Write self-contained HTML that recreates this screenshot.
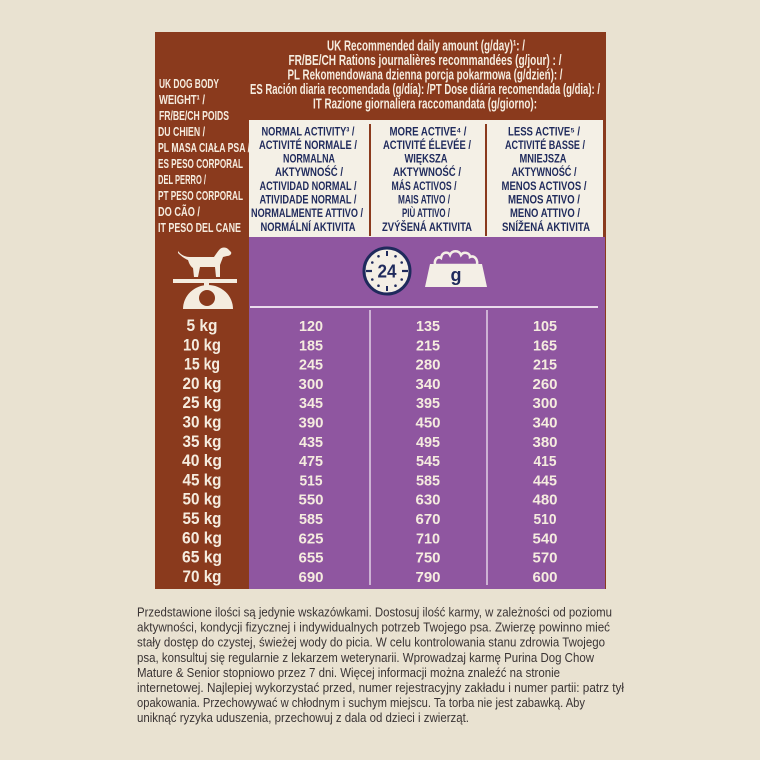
<!DOCTYPE html>
<html>
<head>
<meta charset="utf-8">
<style>
html,body{margin:0;padding:0;background:#e9e2d1;}
svg{display:block;}
text{font-family:"Liberation Sans Narrow","Liberation Sans","Noto Sans CJK SC",sans-serif;font-weight:bold;}
.hd{fill:#f5ecdf;font-size:15px;}
.lc{fill:#f5ecdf;font-size:12.5px;}
.cc{fill:#1f2a5c;font-size:12px;}
.kg{fill:#f5ecdf;font-size:16.5px;}
.nm{fill:#f5ecdf;font-size:15px;}
.pg{fill:#3a3434;font-size:13px;font-weight:normal;}
</style>
</head>
<body>
<svg width="760" height="760" viewBox="0 0 760 760" xmlns="http://www.w3.org/2000/svg">
<rect x="0" y="0" width="760" height="760" fill="#e9e2d1"/>
<rect x="155" y="32" width="451" height="557" fill="#8a3a1d"/>
<rect x="249" y="120" width="354" height="117" fill="#f4f0e6"/>
<rect x="369" y="124" width="2" height="112" fill="#8a3a1d"/>
<rect x="485" y="124" width="2" height="112" fill="#8a3a1d"/>
<rect x="249" y="237" width="356" height="352" fill="#8f56a0"/>
<line x1="250" y1="307" x2="598" y2="307" stroke="#eadcec" stroke-width="2"/>
<line x1="370" y1="310" x2="370" y2="585" stroke="#e2d0e6" stroke-width="1.5"/>
<line x1="487" y1="310" x2="487" y2="585" stroke="#e2d0e6" stroke-width="1.5"/>

<text class="hd" x="426" y="50.5" text-anchor="middle" textLength="198" lengthAdjust="spacingAndGlyphs">UK Recommended daily amount (g/day)¹: /</text>
<text class="hd" x="425" y="65" text-anchor="middle" textLength="273" lengthAdjust="spacingAndGlyphs">FR/BE/CH Rations journalières recommandées (g/jour) : /</text>
<text class="hd" x="425" y="79.5" text-anchor="middle" textLength="275" lengthAdjust="spacingAndGlyphs">PL Rekomendowana dzienna porcja pokarmowa (g/dzień): /</text>
<text class="hd" x="425" y="94" text-anchor="middle" textLength="350" lengthAdjust="spacingAndGlyphs">ES Ración diaria recomendada (g/día): /PT Dose diária recomendada (g/dia): /</text>
<text class="hd" x="425" y="108.5" text-anchor="middle" textLength="224" lengthAdjust="spacingAndGlyphs">IT Razione giornaliera raccomandata (g/giorno):</text>

<text class="lc" x="159" y="88" textLength="60" lengthAdjust="spacingAndGlyphs">UK DOG BODY</text>
<text class="lc" x="159" y="104" textLength="46" lengthAdjust="spacingAndGlyphs">WEIGHT¹ /</text>
<text class="lc" x="159" y="120" textLength="70" lengthAdjust="spacingAndGlyphs">FR/BE/CH POIDS</text>
<text class="lc" x="158" y="136" textLength="47" lengthAdjust="spacingAndGlyphs">DU CHIEN /</text>
<text class="lc" x="158" y="152" textLength="92" lengthAdjust="spacingAndGlyphs">PL MASA CIAŁA PSA /</text>
<text class="lc" x="158" y="168" textLength="85" lengthAdjust="spacingAndGlyphs">ES PESO CORPORAL</text>
<text class="lc" x="158" y="184" textLength="48" lengthAdjust="spacingAndGlyphs">DEL PERRO /</text>
<text class="lc" x="158" y="200" textLength="85" lengthAdjust="spacingAndGlyphs">PT PESO CORPORAL</text>
<text class="lc" x="158" y="216" textLength="42" lengthAdjust="spacingAndGlyphs">DO CÃO /</text>
<text class="lc" x="158" y="232" textLength="83" lengthAdjust="spacingAndGlyphs">IT PESO DEL CANE</text>

<g text-anchor="middle">
<text class="cc" x="308" y="135.5" textLength="93" lengthAdjust="spacingAndGlyphs">NORMAL ACTIVITY³ /</text>
<text class="cc" x="308" y="149" textLength="98" lengthAdjust="spacingAndGlyphs">ACTIVITÉ NORMALE /</text>
<text class="cc" x="309" y="162.5" textLength="52" lengthAdjust="spacingAndGlyphs">NORMALNA</text>
<text class="cc" x="309" y="176" textLength="68" lengthAdjust="spacingAndGlyphs">AKTYWNOŚĆ /</text>
<text class="cc" x="308" y="190" textLength="97" lengthAdjust="spacingAndGlyphs">ACTIVIDAD NORMAL /</text>
<text class="cc" x="308" y="203.5" textLength="97" lengthAdjust="spacingAndGlyphs">ATIVIDADE NORMAL /</text>
<text class="cc" x="307" y="217" textLength="112" lengthAdjust="spacingAndGlyphs">NORMALMENTE ATTIVO /</text>
<text class="cc" x="308" y="231" textLength="95" lengthAdjust="spacingAndGlyphs">NORMÁLNÍ AKTIVITA</text>
<text class="cc" x="428" y="135.5" textLength="77" lengthAdjust="spacingAndGlyphs">MORE ACTIVE⁴ /</text>
<text class="cc" x="427" y="149" textLength="88" lengthAdjust="spacingAndGlyphs">ACTIVITÉ ÉLEVÉE /</text>
<text class="cc" x="426" y="162.5" textLength="43" lengthAdjust="spacingAndGlyphs">WIĘKSZA</text>
<text class="cc" x="427" y="176" textLength="68" lengthAdjust="spacingAndGlyphs">AKTYWNOŚĆ /</text>
<text class="cc" x="424" y="190" textLength="65" lengthAdjust="spacingAndGlyphs">MÁS ACTIVOS /</text>
<text class="cc" x="424" y="203.5" textLength="52" lengthAdjust="spacingAndGlyphs">MAIS ATIVO /</text>
<text class="cc" x="426" y="217" textLength="48" lengthAdjust="spacingAndGlyphs">PIÙ ATTIVO /</text>
<text class="cc" x="427" y="231" textLength="90" lengthAdjust="spacingAndGlyphs">ZVÝŠENÁ AKTIVITA</text>
<text class="cc" x="544" y="135.5" textLength="72" lengthAdjust="spacingAndGlyphs">LESS ACTIVE⁵ /</text>
<text class="cc" x="545" y="149" textLength="80" lengthAdjust="spacingAndGlyphs">ACTIVITÉ BASSE /</text>
<text class="cc" x="543" y="162.5" textLength="47" lengthAdjust="spacingAndGlyphs">MNIEJSZA</text>
<text class="cc" x="544" y="176" textLength="65" lengthAdjust="spacingAndGlyphs">AKTYWNOŚĆ /</text>
<text class="cc" x="544" y="190" textLength="85" lengthAdjust="spacingAndGlyphs">MENOS ACTIVOS /</text>
<text class="cc" x="544" y="203.5" textLength="72" lengthAdjust="spacingAndGlyphs">MENOS ATIVO /</text>
<text class="cc" x="545" y="217" textLength="70" lengthAdjust="spacingAndGlyphs">MENO ATTIVO /</text>
<text class="cc" x="546" y="231" textLength="88" lengthAdjust="spacingAndGlyphs">SNÍŽENÁ AKTIVITA</text>
</g>

<path d="M178,251 C182,256 186,257 191,257 L214,257 C216,254 218,251 220,249 C222,247 226,247 228,249 L231,252 C232,254 230,256 227,256 L223,257 C222,260 221,262 220,265 L220,277 L216,277 L215,267 L200,267 L198,277 L194,277 L193,268 C190,266 189,263 188,260 C185,259 181,256 178,253 Z" fill="#f4ecdf"/>
<rect x="173" y="279" width="64" height="4" fill="#f4ecdf"/>
<rect x="204" y="283" width="5" height="3" fill="#f4ecdf"/>
<path d="M183,309 A25,24 0 0 1 233,309 Z" fill="#f4ecdf"/>
<circle cx="207" cy="298" r="8" fill="#8a3a1d"/>

<circle cx="387" cy="271" r="23" fill="#f4efe6" stroke="#1f2a5c" stroke-width="3"/>
<line x1="366" y1="271" x2="372" y2="271" stroke="#1f2a5c" stroke-width="2.2"/>
<line x1="402" y1="271" x2="408" y2="271" stroke="#1f2a5c" stroke-width="2.2"/>
<line x1="387" y1="251" x2="387" y2="256" stroke="#1f2a5c" stroke-width="2"/>
<line x1="387" y1="286" x2="387" y2="291" stroke="#1f2a5c" stroke-width="2"/>
<g fill="#1f2a5c">
<circle cx="395.5" cy="256.3" r="1.3"/><circle cx="401.7" cy="262.5" r="1.3"/>
<circle cx="401.7" cy="279.5" r="1.3"/><circle cx="395.5" cy="285.7" r="1.3"/>
<circle cx="378.5" cy="285.7" r="1.3"/><circle cx="372.3" cy="279.5" r="1.3"/>
<circle cx="372.3" cy="262.5" r="1.3"/><circle cx="378.5" cy="256.3" r="1.3"/>
</g>
<text x="387" y="277.5" text-anchor="middle" style="fill:#1f2a5c;font-size:18px;" textLength="19" lengthAdjust="spacingAndGlyphs">24</text>

<path d="M435,265 C434,259 438,256 441,258 C442,252 448,251 450,255 C452,250 459,250 461,255 C464,251 470,253 470,257 C474,255 478,259 477,265 Z" fill="#8f56a0" stroke="#f4efe6" stroke-width="2.5"/>
<polygon points="430,264 482,264 487,287 425,287" fill="#f4efe6"/>
<text x="456" y="281" text-anchor="middle" style="fill:#1f2a5c;font-size:18px;">g</text>

<g text-anchor="middle">
<text class="kg" x="202" y="331" textLength="31" lengthAdjust="spacingAndGlyphs">5 kg</text>
<text class="kg" x="202" y="350.3" textLength="38" lengthAdjust="spacingAndGlyphs">10 kg</text>
<text class="kg" x="202" y="369.6" textLength="36" lengthAdjust="spacingAndGlyphs">15 kg</text>
<text class="kg" x="202" y="388.9" textLength="39" lengthAdjust="spacingAndGlyphs">20 kg</text>
<text class="kg" x="202" y="408.2" textLength="39" lengthAdjust="spacingAndGlyphs">25 kg</text>
<text class="kg" x="202" y="427.5" textLength="39" lengthAdjust="spacingAndGlyphs">30 kg</text>
<text class="kg" x="202" y="446.8" textLength="39" lengthAdjust="spacingAndGlyphs">35 kg</text>
<text class="kg" x="202" y="466.1" textLength="40" lengthAdjust="spacingAndGlyphs">40 kg</text>
<text class="kg" x="202" y="485.4" textLength="39" lengthAdjust="spacingAndGlyphs">45 kg</text>
<text class="kg" x="202" y="504.7" textLength="39" lengthAdjust="spacingAndGlyphs">50 kg</text>
<text class="kg" x="202" y="524" textLength="39" lengthAdjust="spacingAndGlyphs">55 kg</text>
<text class="kg" x="202" y="543.3" textLength="40" lengthAdjust="spacingAndGlyphs">60 kg</text>
<text class="kg" x="202" y="562.6" textLength="40" lengthAdjust="spacingAndGlyphs">65 kg</text>
<text class="kg" x="202" y="581.9" textLength="39" lengthAdjust="spacingAndGlyphs">70 kg</text>

<text class="nm" x="311" y="331" textLength="24" lengthAdjust="spacingAndGlyphs">120</text>
<text class="nm" x="311" y="350.3" textLength="24" lengthAdjust="spacingAndGlyphs">185</text>
<text class="nm" x="311" y="369.6" textLength="24" lengthAdjust="spacingAndGlyphs">245</text>
<text class="nm" x="311" y="388.9" textLength="25" lengthAdjust="spacingAndGlyphs">300</text>
<text class="nm" x="311" y="408.2" textLength="24" lengthAdjust="spacingAndGlyphs">345</text>
<text class="nm" x="311" y="427.5" textLength="25" lengthAdjust="spacingAndGlyphs">390</text>
<text class="nm" x="311" y="446.8" textLength="24" lengthAdjust="spacingAndGlyphs">435</text>
<text class="nm" x="311" y="466.1" textLength="24" lengthAdjust="spacingAndGlyphs">475</text>
<text class="nm" x="311" y="485.4" textLength="23" lengthAdjust="spacingAndGlyphs">515</text>
<text class="nm" x="311" y="504.7" textLength="25" lengthAdjust="spacingAndGlyphs">550</text>
<text class="nm" x="311" y="524" textLength="24" lengthAdjust="spacingAndGlyphs">585</text>
<text class="nm" x="311" y="543.3" textLength="25" lengthAdjust="spacingAndGlyphs">625</text>
<text class="nm" x="311" y="562.6" textLength="25" lengthAdjust="spacingAndGlyphs">655</text>
<text class="nm" x="311" y="581.9" textLength="25" lengthAdjust="spacingAndGlyphs">690</text>

<text class="nm" x="428" y="331" textLength="24" lengthAdjust="spacingAndGlyphs">135</text>
<text class="nm" x="428" y="350.3" textLength="24" lengthAdjust="spacingAndGlyphs">215</text>
<text class="nm" x="428" y="369.6" textLength="25" lengthAdjust="spacingAndGlyphs">280</text>
<text class="nm" x="428" y="388.9" textLength="25" lengthAdjust="spacingAndGlyphs">340</text>
<text class="nm" x="428" y="408.2" textLength="24" lengthAdjust="spacingAndGlyphs">395</text>
<text class="nm" x="428" y="427.5" textLength="25" lengthAdjust="spacingAndGlyphs">450</text>
<text class="nm" x="428" y="446.8" textLength="24" lengthAdjust="spacingAndGlyphs">495</text>
<text class="nm" x="428" y="466.1" textLength="24" lengthAdjust="spacingAndGlyphs">545</text>
<text class="nm" x="428" y="485.4" textLength="24" lengthAdjust="spacingAndGlyphs">585</text>
<text class="nm" x="428" y="504.7" textLength="25" lengthAdjust="spacingAndGlyphs">630</text>
<text class="nm" x="428" y="524" textLength="25" lengthAdjust="spacingAndGlyphs">670</text>
<text class="nm" x="428" y="543.3" textLength="24" lengthAdjust="spacingAndGlyphs">710</text>
<text class="nm" x="428" y="562.6" textLength="25" lengthAdjust="spacingAndGlyphs">750</text>
<text class="nm" x="428" y="581.9" textLength="25" lengthAdjust="spacingAndGlyphs">790</text>

<text class="nm" x="545" y="331" textLength="24" lengthAdjust="spacingAndGlyphs">105</text>
<text class="nm" x="545" y="350.3" textLength="24" lengthAdjust="spacingAndGlyphs">165</text>
<text class="nm" x="545" y="369.6" textLength="24" lengthAdjust="spacingAndGlyphs">215</text>
<text class="nm" x="545" y="388.9" textLength="25" lengthAdjust="spacingAndGlyphs">260</text>
<text class="nm" x="545" y="408.2" textLength="25" lengthAdjust="spacingAndGlyphs">300</text>
<text class="nm" x="545" y="427.5" textLength="25" lengthAdjust="spacingAndGlyphs">340</text>
<text class="nm" x="545" y="446.8" textLength="25" lengthAdjust="spacingAndGlyphs">380</text>
<text class="nm" x="545" y="466.1" textLength="23" lengthAdjust="spacingAndGlyphs">415</text>
<text class="nm" x="545" y="485.4" textLength="24" lengthAdjust="spacingAndGlyphs">445</text>
<text class="nm" x="545" y="504.7" textLength="25" lengthAdjust="spacingAndGlyphs">480</text>
<text class="nm" x="545" y="524" textLength="23" lengthAdjust="spacingAndGlyphs">510</text>
<text class="nm" x="545" y="543.3" textLength="25" lengthAdjust="spacingAndGlyphs">540</text>
<text class="nm" x="545" y="562.6" textLength="25" lengthAdjust="spacingAndGlyphs">570</text>
<text class="nm" x="545" y="581.9" textLength="25" lengthAdjust="spacingAndGlyphs">600</text>
</g>

<text class="pg" x="137" y="616.5" textLength="475" lengthAdjust="spacingAndGlyphs">Przedstawione ilości są jedynie wskazówkami. Dostosuj ilość karmy, w zależności od poziomu</text>
<text class="pg" x="137" y="631.6" textLength="473" lengthAdjust="spacingAndGlyphs">aktywności, kondycji fizycznej i indywidualnych potrzeb Twojego psa. Zwierzę powinno mieć</text>
<text class="pg" x="137" y="646.7" textLength="468" lengthAdjust="spacingAndGlyphs">stały dostęp do czystej, świeżej wody do picia. W celu kontrolowania stanu zdrowia Twojego</text>
<text class="pg" x="137" y="661.8" textLength="457" lengthAdjust="spacingAndGlyphs">psa, konsultuj się regularnie z lekarzem weterynarii. Wprowadzaj karmę Purina Dog Chow</text>
<text class="pg" x="137" y="676.9" textLength="423" lengthAdjust="spacingAndGlyphs">Mature &amp; Senior stopniowo przez 7 dni. Więcej informacji można znaleźć na stronie</text>
<text class="pg" x="137" y="692" textLength="487" lengthAdjust="spacingAndGlyphs">internetowej. Najlepiej wykorzystać przed, numer rejestracyjny zakładu i numer partii: patrz tył</text>
<text class="pg" x="137" y="707.1" textLength="448" lengthAdjust="spacingAndGlyphs">opakowania. Przechowywać w chłodnym i suchym miejscu. Ta torba nie jest zabawką. Aby</text>
<text class="pg" x="137" y="722.2" textLength="332" lengthAdjust="spacingAndGlyphs">uniknąć ryzyka uduszenia, przechowuj z dala od dzieci i zwierząt.</text>
</svg>
</body>
</html>
